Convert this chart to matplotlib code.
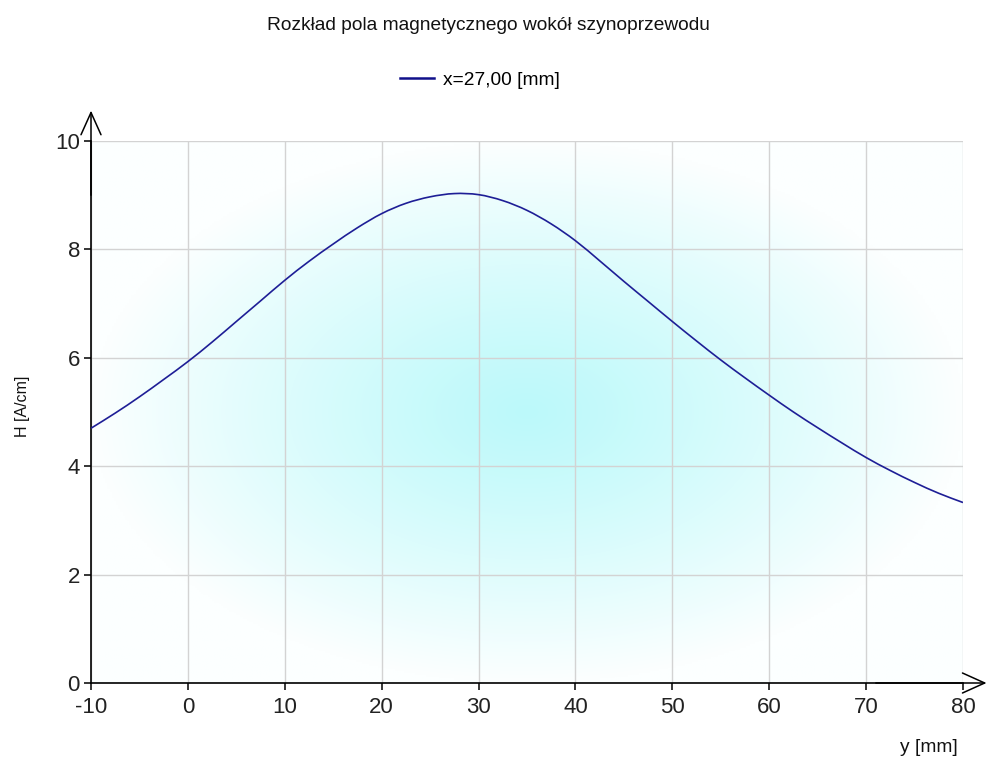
import numpy as np
import matplotlib
matplotlib.use("Agg")
import matplotlib.pyplot as plt
from matplotlib.path import Path
from matplotlib.patches import PathPatch
from matplotlib.lines import Line2D

plt.rcParams['font.family'] = ['Liberation Sans', 'DejaVu Sans']
plt.rcParams['axes.unicode_minus'] = False

# Field strength H [A/cm] along y [mm] at fixed x = 27 mm
y_mm = [-10, -7.5, -5, -2.5, 0, 2.5, 5, 7.5, 10, 12.5, 15, 17.5, 20, 22.5, 25,
        27.5, 30, 32.5, 35, 37.5, 40, 42.5, 45, 47.5, 50, 52.5, 55, 57.5, 60,
        62.5, 65, 67.5, 70, 72.5, 75, 77.5, 80]
h_acm = [4.70, 4.98, 5.28, 5.60, 5.93, 6.29, 6.67, 7.05, 7.43, 7.78, 8.10, 8.40,
         8.66, 8.85, 8.97, 9.03, 9.01, 8.90, 8.72, 8.47, 8.16, 7.79, 7.41, 7.04,
         6.67, 6.31, 5.96, 5.63, 5.31, 5.00, 4.71, 4.43, 4.16, 3.92, 3.70, 3.50,
         3.33]

x_ticks = [-10, 0, 10, 20, 30, 40, 50, 60, 70, 80]
y_ticks = [0, 2, 4, 6, 8, 10]

title = "Rozkład pola magnetycznego wokół szynoprzewodu"
series_label = "x=27,00 [mm]"
x_label = "y [mm]"
y_label = "H [A/cm]"
line_color = '#1e1e96'
legend_color = '#10108a'


def spline_path(xs, ys):
    """Smooth cubic Bezier path through the points (Hermite, finite-difference slopes)."""
    xs = np.asarray(xs, float)
    ys = np.asarray(ys, float)
    n = len(xs)
    m = np.empty(n)
    m[0] = (ys[1] - ys[0]) / (xs[1] - xs[0])
    m[-1] = (ys[-1] - ys[-2]) / (xs[-1] - xs[-2])
    for i in range(1, n - 1):
        m[i] = (ys[i + 1] - ys[i - 1]) / (xs[i + 1] - xs[i - 1])
    verts = [(xs[0], ys[0])]
    codes = [Path.MOVETO]
    for i in range(n - 1):
        h = xs[i + 1] - xs[i]
        verts += [(xs[i] + h / 3, ys[i] + m[i] * h / 3),
                  (xs[i + 1] - h / 3, ys[i + 1] - m[i + 1] * h / 3),
                  (xs[i + 1], ys[i + 1])]
        codes += [Path.CURVE4] * 3
    return Path(verts, codes)


fig = plt.figure(figsize=(9.89, 7.58), dpi=100)
ax = fig.add_axes([91 / 989, 1 - 683 / 758, (963 - 91) / 989, (683 - 141) / 758])

xmin, xmax = x_ticks[0], x_ticks[-1]
ymin, ymax = y_ticks[0], y_ticks[-1]

# radial cyan-to-white background
gx = np.linspace(-1, 1, 400)
gy = np.linspace(-1, 1, 300)
GX, GY = np.meshgrid(gx, gy)
r = np.clip(np.sqrt(GX ** 2 + GY ** 2), 0, 1) ** 1.15
center = np.array([188, 249, 250]) / 255.0
edge = np.array([252, 255, 255]) / 255.0
img = center[None, None, :] * (1 - r[..., None]) + edge[None, None, :] * r[..., None]
ax.imshow(img, extent=(xmin, xmax, ymin, ymax), aspect='auto', origin='lower',
          zorder=0, interpolation='bilinear')

ax.set_xlim(xmin, xmax)
ax.set_ylim(ymin, ymax)
ax.set_xticks(x_ticks)
ax.set_yticks(y_ticks)
ax.set_axisbelow(True)
ax.grid(True, color='#d3d3d3', linewidth=1.0, zorder=0.5)

ax.add_patch(PathPatch(spline_path(y_mm, h_acm), fill=False, edgecolor=line_color,
                       linewidth=1.2, zorder=3, transform=ax.transData))

for s in ('top', 'right'):
    ax.spines[s].set_visible(False)
for s in ('left', 'bottom'):
    ax.spines[s].set_linewidth(1.2)
    ax.spines[s].set_color('black')

ax.tick_params(axis='both', direction='out', length=5, width=1.1, colors='black',
               labelsize=16, labelcolor='#222222')
ax.tick_params(axis='y', pad=3)
ax.tick_params(axis='x', pad=5)

# open arrowheads at the ends of both axes
arrow = dict(arrowstyle='->,head_length=1.6,head_width=0.72', color='black',
             linewidth=1.1, shrinkA=0, shrinkB=0, mutation_scale=10)
ax.annotate('', xy=(0, 1.056), xytext=(0, 0.9), xycoords='axes fraction',
            arrowprops=arrow, annotation_clip=False)
ax.annotate('', xy=(1.027, 0), xytext=(0.9, 0), xycoords='axes fraction',
            arrowprops=arrow, annotation_clip=False)

fig.text(0.494, 1 - 25 / 758, title, ha='center', va='center', fontsize=13.8,
         color='#111111')
handle = Line2D([], [], color=legend_color, linewidth=1.8)
fig.legend(handles=[handle], labels=[series_label], loc='center',
           bbox_to_anchor=(0.485, 1 - 80 / 758), frameon=False, fontsize=13.8,
           handlelength=1.8, handletextpad=0.45)

fig.text(958 / 989, 1 - 747 / 758, x_label, ha='right', va='center', fontsize=13.8,
         color='#111111')
fig.text(22 / 989, 1 - 406 / 758, y_label, ha='center', va='center', rotation=90,
         fontsize=11.5, color='#111111')

fig.savefig('out.png', dpi=100)
